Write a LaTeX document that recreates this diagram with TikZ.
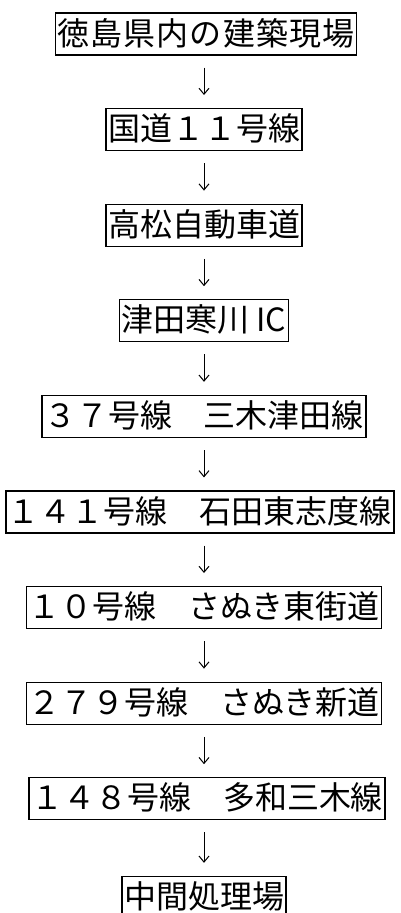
\documentclass[tikz,border=0pt]{standalone}
\usepackage{fontspec}
\usepackage{tikz}
\usetikzlibrary{arrows.meta}
\newfontfamily\jpfont{Noto Sans CJK JP}

\begin{document}
\begin{tikzpicture}[x=1pt, y=1pt, node distance=95.6pt]
        \tikzstyle{place} = [rectangle, draw=black, line width=1.2pt, minimum height=42pt, inner xsep=2pt, inner ysep=5pt, text height=27pt, text depth=5pt, text centered, font=\jpfont\fontsize{32}{36}\selectfont]
        \tikzstyle{arrow} = [line width=1pt, -{Straight Barb[length=6pt, width=10pt]}, shorten <=12pt, shorten >=13pt]

        \useasboundingbox (0,0) rectangle (401,-913);

        % Nodes
        \node (site) [place] at (206,-34) {\addfontfeature{LetterSpace=3.6}徳島県内の建築現場};
        \node (r11) [place, below of=site, xshift=-2pt] {国道１１号線};
        \node (takamatsu) [place, below of=r11] {高松自動車道};
        \node (ic) [place, below of=takamatsu] {津田寒川\kern7pt IC};
        \node (r37) [place, below of=ic] {３７号線　三木津田線};
        \node (r141) [place, below of=r37, xshift=-4pt] {１４１号線　石田東志度線};
        \node (r10) [place, below of=r141, xshift=4pt] {１０号線　さぬき東街道};
        \node (r279) [place, below of=r10] {２７９号線　さぬき新道};
        \node (r148) [place, below of=r279, xshift=3pt] {１４８号線　多和三木線};
        \node (plant) [place, below of=r148, xshift=-3pt, yshift=-3pt] {中間処理場};

        % Arrows
        \draw [arrow] (site.south -| r11) -- (r11);
        \draw [arrow] (r11) -- (takamatsu);
        \draw [arrow] (takamatsu) -- (ic);
        \draw [arrow] (ic) -- (r37);
        \draw [arrow] (r37) -- (r141.north -| r37);
        \draw [arrow] (r141.south -| r10) -- (r10);
        \draw [arrow] (r10) -- (r279);
        \draw [arrow] (r279) -- (r148.north -| r279);
        \draw [arrow] (r148.south -| plant) -- (plant);
    \end{tikzpicture}
\end{document}
